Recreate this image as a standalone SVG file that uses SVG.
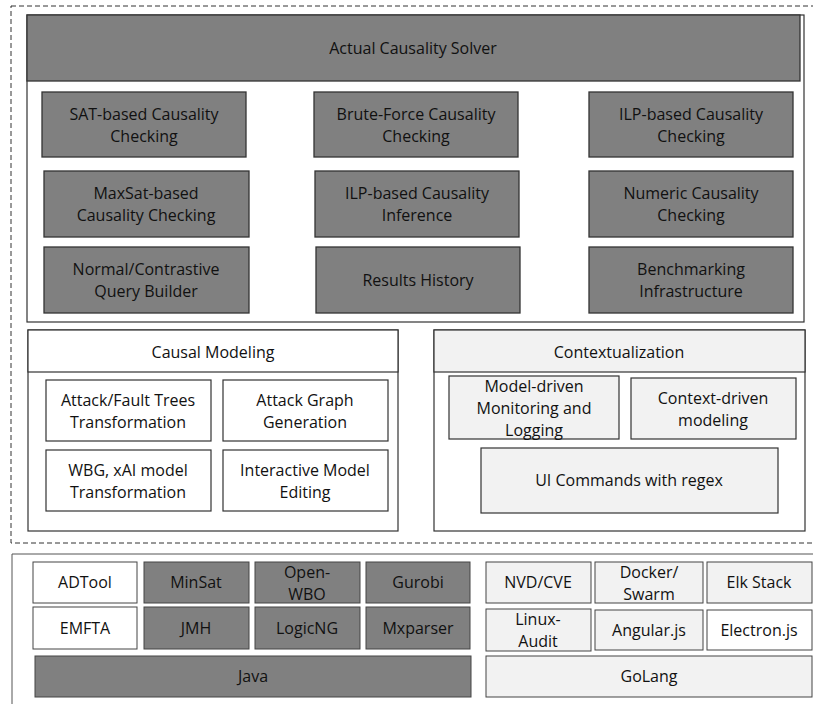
<svg xmlns="http://www.w3.org/2000/svg" width="813" height="707" viewBox="0 0 813 707">
<style>
text{font-family:"Open Sans","Noto Sans","Liberation Sans",sans-serif;font-size:16px;fill:#111;text-anchor:middle;dominant-baseline:central}
.dk{fill:#808080;stroke:#333;stroke-width:1.3}
.lt{fill:#f2f2f2;stroke:#333;stroke-width:1.2}
.wh{fill:#fff;stroke:#333;stroke-width:1.2}
.dkb{fill:#808080;stroke:#444;stroke-width:1}
.ltb{fill:#f2f2f2;stroke:#444;stroke-width:1}
.whb{fill:#fff;stroke:#444;stroke-width:1}
</style>
<rect width="813" height="707" fill="#fff"/>
<g id="layer-top">
<rect x="11" y="6" width="812" height="537" fill="none" stroke="#333" stroke-width="1" stroke-dasharray="5,3"/>
</g>
<g id="solver">
<rect x="27" y="15" width="777" height="307" fill="#fff" stroke="#333" stroke-width="1.2"/>
<rect class="dk" x="27" y="15" width="773" height="66"/>
<text x="413" y="48">Actual Causality Solver</text>
</g>
<g id="sat"><rect class="dk" x="42" y="92" width="204" height="65"/><text x="144" y="113.5">SAT-based Causality</text><text x="144" y="135.5">Checking</text></g>
<g id="brute"><rect class="dk" x="314" y="92" width="204" height="65"/><text x="416" y="113.5">Brute-Force Causality</text><text x="416" y="135.5">Checking</text></g>
<g id="ilpcheck"><rect class="dk" x="589" y="92" width="204" height="65"/><text x="691" y="113.5">ILP-based Causality</text><text x="691" y="135.5">Checking</text></g>
<g id="maxsat"><rect class="dk" x="44" y="171" width="205" height="66"/><text x="146" y="193">MaxSat-based</text><text x="146" y="215">Causality Checking</text></g>
<g id="ilpinf"><rect class="dk" x="315" y="171" width="204" height="66"/><text x="417" y="193">ILP-based Causality</text><text x="417" y="215">Inference</text></g>
<g id="numeric"><rect class="dk" x="589" y="171" width="204" height="66"/><text x="691" y="193">Numeric Causality</text><text x="691" y="215">Checking</text></g>
<g id="query"><rect class="dk" x="44" y="247" width="205" height="66"/><text x="146" y="269">Normal/Contrastive</text><text x="146" y="291">Query Builder</text></g>
<g id="results"><rect class="dk" x="316" y="247" width="204" height="66"/><text x="418" y="280">Results History</text></g>
<g id="bench"><rect class="dk" x="589" y="247" width="204" height="66"/><text x="691" y="269">Benchmarking</text><text x="691" y="291">Infrastructure</text></g>

<g id="causal">
<rect class="wh" x="28" y="330" width="370" height="201"/>
<rect class="wh" x="28" y="330" width="370" height="42"/>
<text x="213" y="352">Causal Modeling</text>
</g>
<g id="aft"><rect class="wh" x="46" y="380" width="165" height="61"/><text x="128" y="399.5">Attack/Fault Trees</text><text x="128" y="421.5">Transformation</text></g>
<g id="agg"><rect class="wh" x="223" y="380" width="165" height="61"/><text x="305" y="399.5">Attack Graph</text><text x="305" y="421.5">Generation</text></g>
<g id="wbg"><rect class="wh" x="46" y="450" width="165" height="61"/><text x="128" y="469.5">WBG, xAI model</text><text x="128" y="491.5">Transformation</text></g>
<g id="ime"><rect class="wh" x="223" y="450" width="165" height="61"/><text x="305" y="469.5">Interactive Model</text><text x="305" y="491.5">Editing</text></g>

<g id="context">
<rect class="wh" x="434" y="330" width="371" height="201"/>
<rect class="lt" x="434" y="330" width="371" height="42"/>
<text x="619" y="352">Contextualization</text>
</g>
<g id="mdm"><rect class="lt" x="449" y="376" width="170" height="63"/><text x="534" y="385.5">Model-driven</text><text x="534" y="407.5">Monitoring and</text><text x="534" y="429.5">Logging</text></g>
<g id="cdm"><rect class="lt" x="631" y="378" width="165" height="61"/><text x="713" y="397.5">Context-driven</text><text x="713" y="419.5">modeling</text></g>
<g id="ui"><rect class="lt" x="481" y="448" width="297" height="65"/><text x="629" y="480">UI Commands with regex</text></g>

<g id="layer-bottom">
<path d="M822 554 H12 V704" fill="none" stroke="#555" stroke-width="1"/>
</g>
<g id="adtool"><rect class="whb" x="33" y="562" width="104" height="41"/><text x="85" y="582">ADTool</text></g>
<g id="minsat"><rect class="dkb" x="144" y="562" width="105" height="41"/><text x="196" y="582">MinSat</text></g>
<g id="openwbo"><rect class="dkb" x="255" y="562" width="105" height="41"/><text x="307" y="571.5">Open-</text><text x="307" y="593.5">WBO</text></g>
<g id="gurobi"><rect class="dkb" x="366" y="562" width="104" height="41"/><text x="418" y="582">Gurobi</text></g>
<g id="emfta"><rect class="whb" x="33" y="607" width="104" height="42"/><text x="85" y="628">EMFTA</text></g>
<g id="jmh"><rect class="dkb" x="144" y="607" width="105" height="42"/><text x="196" y="628">JMH</text></g>
<g id="logicng"><rect class="dkb" x="255" y="607" width="105" height="42"/><text x="307" y="628">LogicNG</text></g>
<g id="mxparser"><rect class="dkb" x="366" y="607" width="104" height="42"/><text x="418" y="628">Mxparser</text></g>
<g id="java"><rect class="dkb" x="35" y="656" width="436" height="41"/><text x="253" y="676">Java</text></g>
<g id="nvd"><rect class="ltb" x="486" y="562" width="105" height="41"/><text x="538" y="582">NVD/CVE</text></g>
<g id="docker"><rect class="ltb" x="595" y="562" width="108" height="41"/><text x="649" y="571.5">Docker/</text><text x="649" y="593.5">Swarm</text></g>
<g id="elk"><rect class="ltb" x="707" y="562" width="105" height="41"/><text x="759" y="582">Elk Stack</text></g>
<g id="linux"><rect class="ltb" x="486" y="609" width="105" height="42"/><text x="538" y="619">Linux-</text><text x="538" y="641">Audit</text></g>
<g id="angular"><rect class="ltb" x="595" y="610" width="108" height="40"/><text x="649" y="630">Angular.js</text></g>
<g id="electron"><rect class="whb" x="707" y="610" width="105" height="40"/><text x="759" y="630">Electron.js</text></g>
<g id="golang"><rect class="ltb" x="486" y="656" width="326" height="41"/><text x="649" y="676">GoLang</text></g>
<g id="connectors"></g>
</svg>
